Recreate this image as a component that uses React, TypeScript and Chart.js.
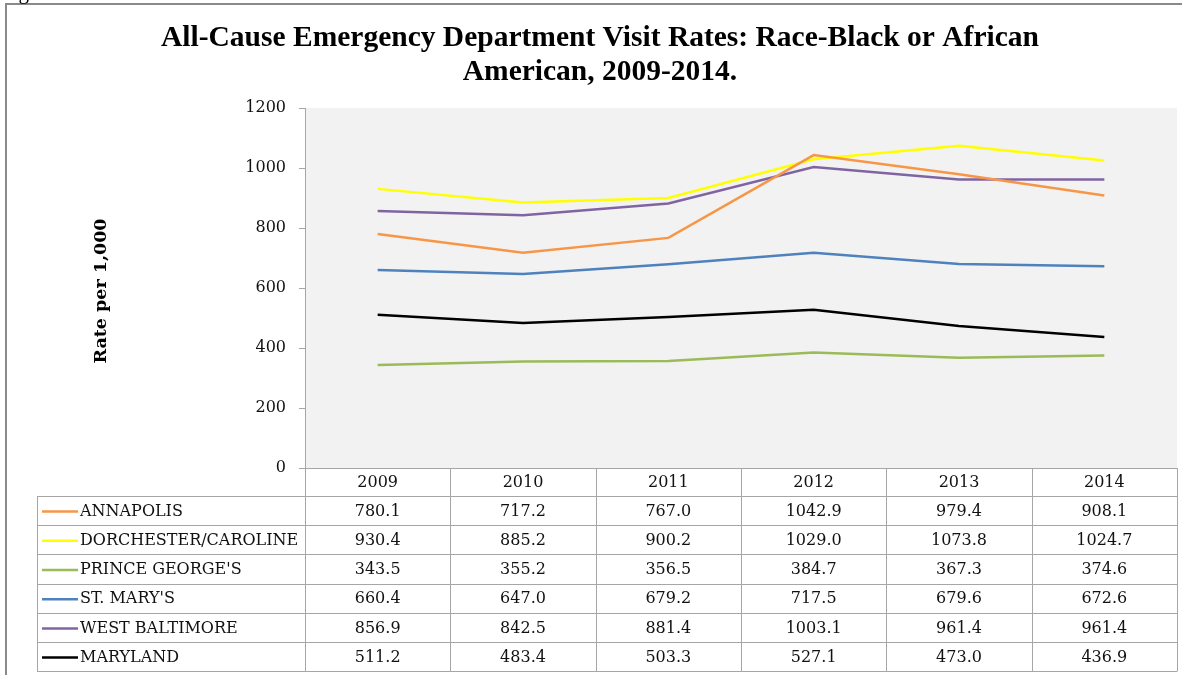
import React, { useEffect, useRef } from 'react';
import { Chart, registerables } from 'chart.js';

Chart.register(...registerables);

const TITLE_LINES = [
  'All-Cause Emergency Department Visit Rates: Race-Black or African',
  'American, 2009-2014.',
];
const Y_TITLE = 'Rate per 1,000';
const YEARS = ['2009', '2010', '2011', '2012', '2013', '2014'];
const SERIES_NAMES = [
  'ANNAPOLIS',
  'DORCHESTER/CAROLINE',
  "PRINCE GEORGE'S",
  "ST. MARY'S",
  'WEST BALTIMORE',
  'MARYLAND',
];
const SERIES_COLORS = ['#F79646', '#FFFF00', '#9BBB59', '#4F81BD', '#8064A2', '#000000'];
const ANNAPOLIS = [780.1, 717.2, 767.0, 1042.9, 979.4, 908.1];
const DORCHESTER_CAROLINE = [930.4, 885.2, 900.2, 1029.0, 1073.8, 1024.7];
const PRINCE_GEORGES = [343.5, 355.2, 356.5, 384.7, 367.3, 374.6];
const ST_MARYS = [660.4, 647.0, 679.2, 717.5, 679.6, 672.6];
const WEST_BALTIMORE = [856.9, 842.5, 881.4, 1003.1, 961.4, 961.4];
const MARYLAND = [511.2, 483.4, 503.3, 527.1, 473.0, 436.9];
const SERIES_VALUES = [ANNAPOLIS, DORCHESTER_CAROLINE, PRINCE_GEORGES, ST_MARYS, WEST_BALTIMORE, MARYLAND];
const Y_MIN = 0;
const Y_MAX = 1200;
const Y_STEP = 200;

const SERIF = '"DejaVu Serif", "Liberation Serif", serif';
const TITLE_FONT = 'bold 29.5px "Liberation Serif", serif';
const GRID = '#a6a6a6';

const decorPlugin = {
  id: 'decor',
  beforeDraw(chart: any) {
    const { ctx, chartArea } = chart;
    ctx.save();
    ctx.fillStyle = '#f2f2f2';
    ctx.fillRect(chartArea.left, chartArea.top, chartArea.right - chartArea.left, chartArea.bottom - chartArea.top);
    ctx.restore();
  },
  afterDraw(chart: any) {
    const { ctx, chartArea } = chart;
    const xs = chart.scales.x;
    const n = YEARS.length;
    const colW = (chartArea.right - chartArea.left) / n;
    const headerTop = chartArea.bottom;
    const headerH = 28;
    const rowH = 29.2;
    const rowsTop = headerTop + headerH;
    const tableBottom = rowsTop + rowH * SERIES_NAMES.length;
    const tableLeft = 37;

    ctx.save();
    // frame
    ctx.strokeStyle = '#8a8a8a';
    ctx.lineWidth = 2;
    ctx.beginPath();
    ctx.moveTo(6, 700);
    ctx.lineTo(6, 4);
    ctx.lineTo(1182, 4);
    ctx.stroke();

    // partial caption text at very top
    ctx.fillStyle = '#000';
    ctx.font = '21px "Liberation Serif", serif';
    ctx.textAlign = 'left';
    ctx.textBaseline = 'alphabetic';
    ctx.fillText('Figure 1', 1, -1);

    // title
    ctx.font = TITLE_FONT;
    ctx.textAlign = 'center';
    ctx.fillText(TITLE_LINES[0], 600, 46);
    ctx.fillText(TITLE_LINES[1], 600, 80);

    // y title
    ctx.save();
    ctx.translate(101, 291);
    ctx.rotate(-Math.PI / 2);
    ctx.font = 'bold 17.5px ' + SERIF;
    ctx.textBaseline = 'middle';
    ctx.fillText(Y_TITLE, 0, 0);
    ctx.restore();

    // table lines
    ctx.strokeStyle = GRID;
    ctx.lineWidth = 1;
    ctx.beginPath();
    ctx.moveTo(chartArea.left, Math.round(headerTop) + 0.5);
    ctx.lineTo(chartArea.right, Math.round(headerTop) + 0.5);
    for (let r = 0; r <= SERIES_NAMES.length; r++) {
      const y = Math.round(rowsTop + r * rowH) + 0.5;
      ctx.moveTo(tableLeft, y);
      ctx.lineTo(chartArea.right, y);
    }
    for (let c = 0; c <= n; c++) {
      const x = Math.round(chartArea.left + c * colW) + 0.5;
      ctx.moveTo(x, headerTop);
      ctx.lineTo(x, Math.round(tableBottom) + 0.5);
    }
    ctx.moveTo(tableLeft + 0.5, Math.round(rowsTop) + 0.5);
    ctx.lineTo(tableLeft + 0.5, Math.round(tableBottom) + 0.5);
    ctx.stroke();

    // header labels
    ctx.fillStyle = '#111';
    ctx.font = '16px ' + SERIF;
    ctx.textAlign = 'center';
    ctx.textBaseline = 'middle';
    YEARS.forEach((yr, i) => {
      ctx.fillText(yr, xs.getPixelForValue(i), headerTop + headerH / 2 + 1);
    });

    // rows
    SERIES_NAMES.forEach((name, r) => {
      const cy = rowsTop + r * rowH + rowH / 2 + 1;
      ctx.strokeStyle = SERIES_COLORS[r];
      ctx.lineWidth = 2.5;
      ctx.beginPath();
      ctx.moveTo(42, cy);
      ctx.lineTo(78, cy);
      ctx.stroke();
      ctx.fillStyle = '#111';
      ctx.textAlign = 'left';
      ctx.fillText(name, 80, cy);
      ctx.textAlign = 'center';
      SERIES_VALUES[r].forEach((v, i) => {
        ctx.fillText(v.toFixed(1), xs.getPixelForValue(i), cy);
      });
    });
    ctx.restore();
  },
};

export default function App() {
  const ref = useRef<HTMLCanvasElement | null>(null);
  useEffect(() => {
    if (!ref.current) return;
    const chart = new Chart(ref.current, {
      type: 'line',
      data: {
        labels: YEARS,
        datasets: SERIES_NAMES.map((name, i) => ({
          label: name,
          data: SERIES_VALUES[i],
          borderColor: SERIES_COLORS[i],
          backgroundColor: SERIES_COLORS[i],
          borderWidth: 2.5,
          pointRadius: 0,
          tension: 0,
          fill: false,
        })),
      },
      options: {
        responsive: false,
        animation: false,
        events: [],
        layout: { padding: { top: 108, bottom: 207, left: 0, right: 13 } },
        plugins: {
          legend: { display: false },
          title: { display: false },
          tooltip: { enabled: false },
        },
        scales: {
          x: {
            type: 'category',
            display: false,
            offset: true,
          },
          y: {
            min: Y_MIN,
            max: Y_MAX,
            afterFit: (scale: any) => {
              scale.width = 305;
            },
            ticks: {
              stepSize: Y_STEP,
              padding: 13,
              color: '#111',
              font: { family: SERIF, size: 16 },
              callback: (v: any) => String(v),
            },
            grid: {
              display: true,
              drawOnChartArea: false,
              drawTicks: true,
              tickLength: 6,
              color: GRID,
            },
            border: { display: true, color: GRID },
          },
        },
      },
      plugins: [decorPlugin],
    });
    return () => chart.destroy();
  }, []);
  return (
    <div style={{ position: 'absolute', left: 0, top: 0, width: 1190, height: 675, background: '#fff' }}>
      <canvas ref={ref} width={1190} height={675} style={{ display: 'block' }} />
    </div>
  );
}
